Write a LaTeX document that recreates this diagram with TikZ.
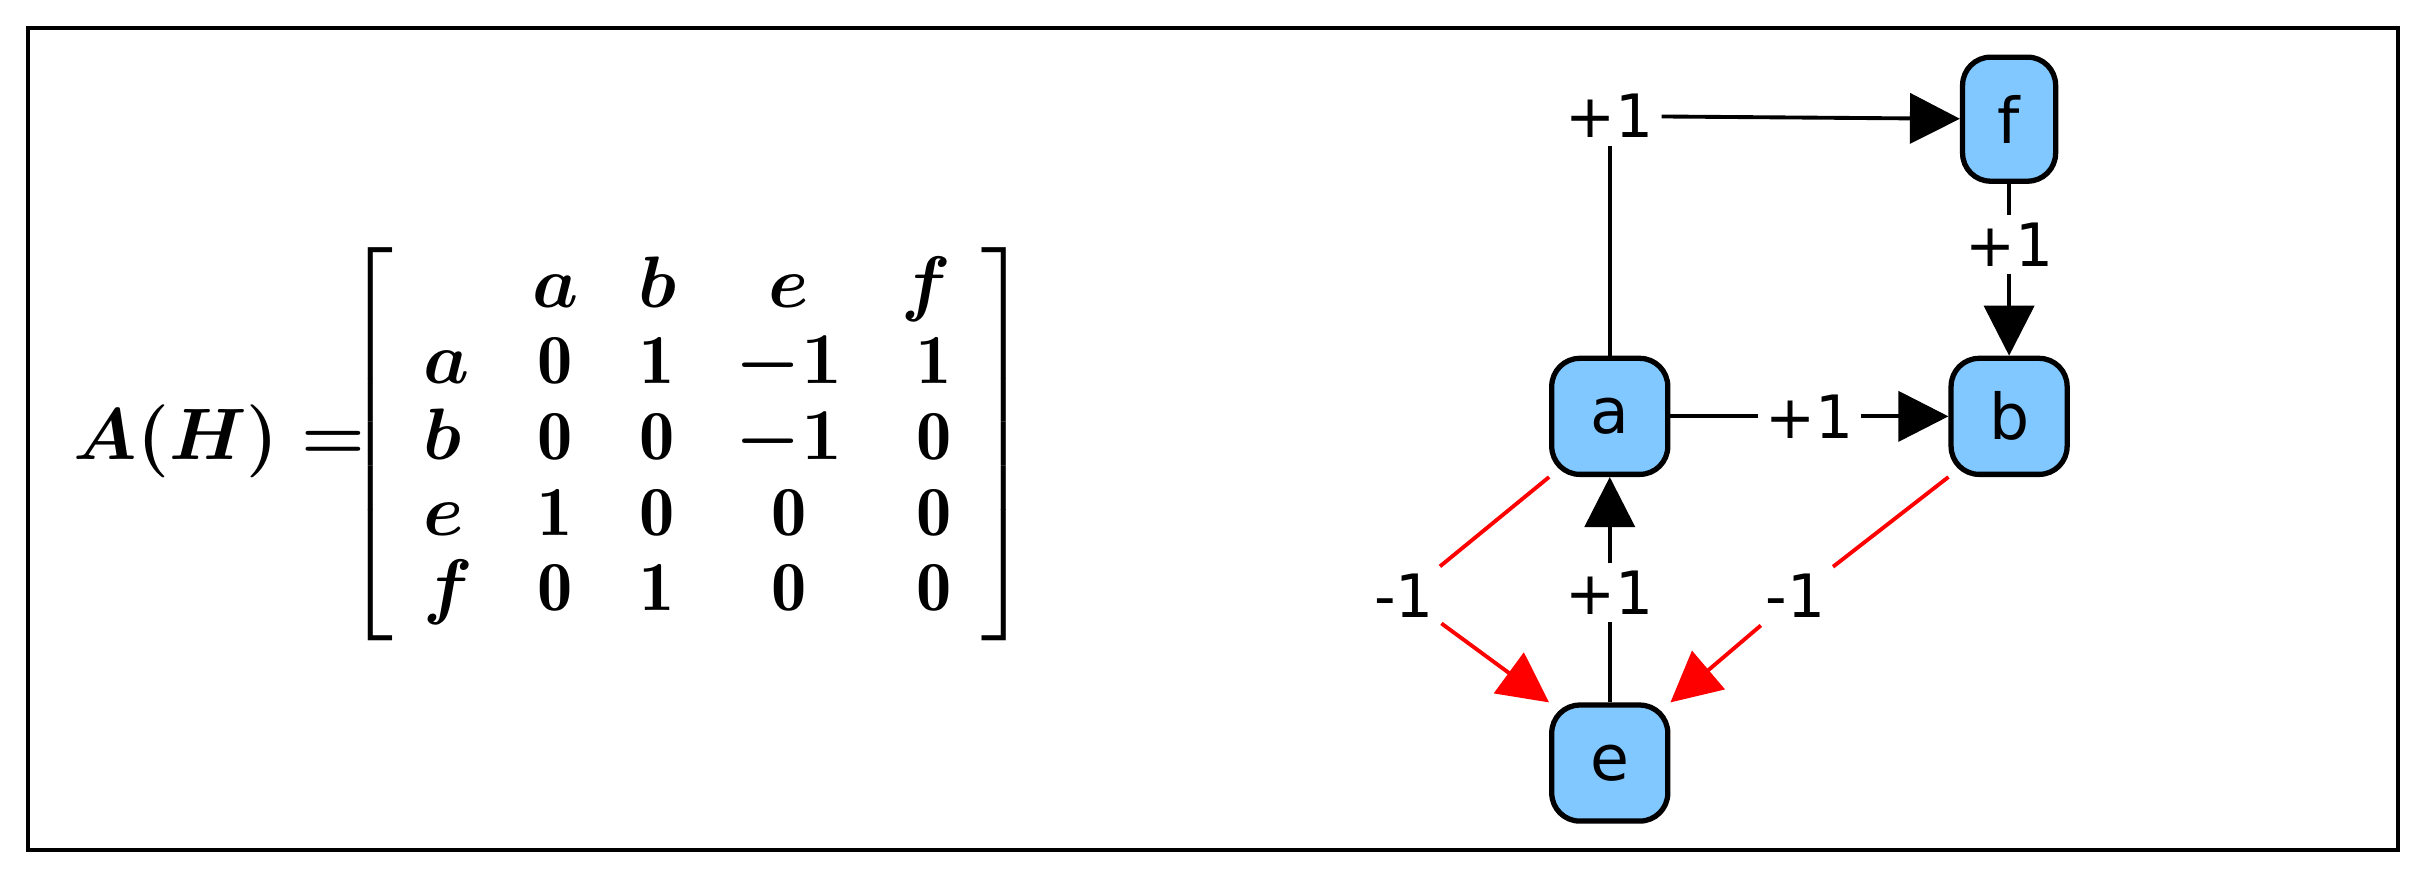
\documentclass[tikz,border=0pt]{standalone}
\usepackage{amsmath}
\usepackage{fontspec}
\newfontfamily\nodefont{DejaVu Sans}
\usetikzlibrary{arrows.meta, positioning}
\definecolor{nodeblue}{RGB}{128,200,255}

\begin{document}
\begin{tikzpicture}[
    x=0.01548cm, y=-0.01548cm,
    vertex/.style={rectangle, rounded corners=2.8mm, draw=black, line width=1.5pt,
                   fill=nodeblue, minimum width=1.16cm, minimum height=1.16cm,
                   font=\nodefont\fontsize{18}{20}\selectfont},
    weight/.style={font=\nodefont\fontsize{17}{20}\selectfont, inner sep=2pt},
    arrow/.style={-{Triangle[length=5mm, width=5mm]}, line width=1.1pt},
    neg/.style={red, line width=1.1pt}
]
\useasboundingbox (0,0) rectangle (1568,570);
\draw[line width=1.2pt] (18,18) rectangle (1549,549);

% --- Matriz ---
\node[font=\fontsize{20}{22}\selectfont] (lhs) at (142,285) {$\boldsymbol{A(H) =}$};
\node[font=\fontsize{20}{22}\selectfont] (matrix) at (444,287) {%
  $\renewcommand{\arraystretch}{0.98}\setlength{\arraycolsep}{8.5pt}
  \left[\begin{array}{lcccr}
     & \boldsymbol{a} & \boldsymbol{b} & \boldsymbol{e} & \boldsymbol{f}\\
   \boldsymbol{a} & \mathbf{0} & \mathbf{1} & \boldsymbol{-1} & \mathbf{1}\\
   \boldsymbol{b} & \mathbf{0} & \mathbf{0} & \boldsymbol{-1} & \mathbf{0}\\
   \boldsymbol{e} & \mathbf{1} & \mathbf{0} & \mathbf{0} & \mathbf{0}\\
   \boldsymbol{f} & \mathbf{0} & \mathbf{1} & \mathbf{0} & \mathbf{0}
  \end{array}\right]$};

% --- Nodos ---
\node[vertex] (a) at (1040,269) {a};
\node[vertex] (b) at (1298,269) {b};
\node[vertex, minimum width=0.93cm, minimum height=1.24cm] (f) at (1298,77) {f};
\node[vertex] (e) at (1040,493) {e};

% --- Etiquetas ---
\node[weight] (wa) at (1040,75) {+1};
\node[weight] (wf) at (1298,158) {+1};
\node[weight] (wae) at (907,385) {-1};
\node[weight] (wbe) at (1160,385) {-1};
\node[weight] (wea) at (1040,383) {+1};

% --- Aristas ---
\draw[line width=1.1pt] (a) -- (wa);
\draw[arrow] (wa) -- (f);
\draw[line width=1.1pt] (f) -- (wf);
\draw[arrow] (wf) -- (b);
\draw[arrow] (a) -- (b) node[weight, midway, fill=white] {+1};
\draw[line width=1.1pt] (e) -- (wea);
\draw[arrow] (wea) -- (a);
\draw[neg] (a.south west) -- (wae);
\draw[neg, arrow, red] (wae) -- (e.north west);
\draw[neg] (b.south west) -- (wbe);
\draw[neg, arrow, red] (wbe) -- (e.north east);
\end{tikzpicture}
\end{document}
